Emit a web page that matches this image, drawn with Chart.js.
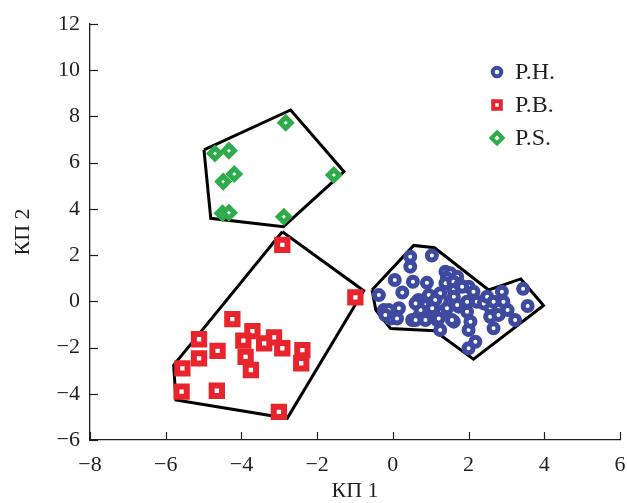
<!DOCTYPE html>
<html>
<head>
<meta charset="utf-8">
<script src="https://cdn.jsdelivr.net/npm/chart.js@4.4.1/dist/chart.umd.min.js"></script>
<style>
  html, body { margin: 0; padding: 0; background: #ffffff; }
  canvas { display: block; }
</style>
</head>
<body>
<canvas id="chart" width="627" height="503"></canvas>
<script>
// Axis ticks
const xTicks = [-8, -6, -4, -2, 0, 2, 4, 6];
const yTicks = [-6, -4, -2, 0, 2, 4, 6, 8, 10, 12];
const xTitle = 'КП 1';
const yTitle = 'КП 2';
const seriesNames = ['P.H.', 'P.B.', 'P.S.'];

// P.H. scores [КП 1, КП 2]
const phPoints = [
  [0.46, 1.93], [0.46, 1.50], [1.03, 1.98], [0.05, 0.92], [0.53, 0.85], [0.90, 0.80],
  [-0.37, 0.27], [0.25, 0.38], [1.39, 1.28], [1.52, 1.21], [1.70, 1.06], [1.43, 1.00],
  [1.39, 0.78], [1.60, 0.85], [2.00, 0.63], [2.13, 0.42], [2.44, 0.06], [2.88, 0.42],
  [3.44, 0.54], [3.56, -0.20], [2.57, -0.67], [3.03, -0.38], [3.23, -0.81], [2.66, -1.17],
  [2.00, -1.24], [2.18, -1.75], [2.00, -2.03], [1.25, -1.24], [1.17, -0.81], [1.61, -0.88],
  [0.68, -0.67], [-0.06, -0.74], [-0.24, -0.38], [0.16, -0.30], [0.64, -0.02], [0.99, 0.13],
  [1.25, 0.35], [1.61, 0.49], [1.78, 0.71], [0.99, -0.38], [1.30, -0.45], [1.74, -0.23],
  [1.96, -0.02], [2.22, -0.02], [1.52, -0.02], [1.61, 0.20], [0.73, -0.38], [0.51, -0.81],
  [2.57, -0.26], [2.92, -0.02], [0.68, 0.06], [0.95, 0.27], [1.12, 0.06], [1.04, -0.30],
  [0.60, -0.09], [-0.11, -0.38], [-0.20, -0.59], [0.11, -0.74], [0.60, -0.81], [0.86, -0.81],
  [1.21, -0.74], [1.43, -0.30], [1.56, -0.81], [1.83, 0.63], [2.40, -0.09], [2.49, 0.20],
  [2.05, -0.88], [2.79, -0.59], [2.66, -0.02], [1.96, -0.45], [1.70, -0.16]
];
// P.B. scores
const pbPoints = [
  [-2.92, 2.44], [-0.99, 0.17], [-4.24, -0.77], [-3.71, -1.29], [-5.12, -1.64], [-3.95, -1.70],
  [-3.14, -1.56], [-3.40, -1.82], [-2.92, -2.03], [-4.63, -2.14], [-2.39, -2.11], [-5.12, -2.47],
  [-3.89, -2.40], [-2.42, -2.68], [-5.56, -2.90], [-3.75, -2.97], [-5.58, -3.91], [-4.65, -3.87],
  [-3.01, -4.78]
];
// P.S. scores
const psPoints = [
  [-2.83, 7.73], [-4.70, 6.40], [-4.33, 6.52], [-4.48, 5.18], [-4.19, 5.51],
  [-4.50, 3.81], [-4.33, 3.83], [-2.88, 3.66], [-1.56, 5.47]
];

// Group outlines (polygon vertices)
const phHull = [[-0.55, 0.49], [0.55, 2.42], [1.10, 2.32], [2.53, 0.49], [3.38, 0.97],
                [3.98, -0.18], [2.13, -2.50], [1.10, -1.27], [-0.06, -1.18], [-0.45, -0.38]];
const pbHull = [[-2.92, 3.01], [-0.77, 0.46], [-2.79, -5.06], [-5.73, -4.27], [-5.79, -2.76]];
const psHull = [[-4.99, 6.55], [-2.70, 8.28], [-1.29, 5.61], [-2.89, 3.23], [-4.81, 3.59]];

const colors = ['#3d4a9f', '#e8252c', '#2eab4b'];
const markerStyles = ['circle', 'rect', 'rectRot'];
const ink = '#231f20';
const fontFamily = "'Liberation Serif', 'Times New Roman', serif";

const toXY = pts => pts.map(([x, y]) => ({ x, y }));
const closed = pts => toXY(pts.concat([pts[0]]));
const minus = v => (v < 0 ? '\u2212' + Math.abs(v) : String(v));

function pointSet(i, pts, radius, border) {
  return {
    label: seriesNames[i],
    data: toXY(pts),
    pointStyle: markerStyles[i],
    pointRadius: radius,
    pointHoverRadius: radius,
    pointBorderWidth: border,
    pointBorderColor: colors[i],
    pointBackgroundColor: '#ffffff',
    borderColor: colors[i],
    backgroundColor: '#ffffff',
    showLine: false,
    order: 1
  };
}
function outline(pts) {
  return {
    label: '',
    data: closed(pts),
    showLine: true,
    borderColor: '#000000',
    borderWidth: 3,
    borderJoinStyle: 'miter',
    pointRadius: 0,
    pointHoverRadius: 0,
    fill: false,
    tension: 0,
    order: 2
  };
}

// Inward-pointing tick marks on both axes
const innerTicks = {
  id: 'innerTicks',
  afterDraw(chart) {
    const { ctx, chartArea: a, scales: { x, y } } = chart;
    ctx.save();
    ctx.strokeStyle = ink;
    ctx.lineWidth = 1.2;
    x.ticks.forEach(t => {
      const px = Math.round(x.getPixelForValue(t.value)) + 0.5;
      ctx.beginPath(); ctx.moveTo(px, a.bottom); ctx.lineTo(px, a.bottom - 8); ctx.stroke();
    });
    y.ticks.forEach(t => {
      const py = Math.round(y.getPixelForValue(t.value)) + 0.5;
      ctx.beginPath(); ctx.moveTo(a.left, py); ctx.lineTo(a.left + 8, py); ctx.stroke();
    });
    ctx.restore();
  }
};

// Legend drawn inside the plot area
const innerLegend = {
  id: 'innerLegend',
  afterDraw(chart) {
    const { ctx } = chart;
    const mx = 497, tx = 515, rows = [72, 105, 138];
    ctx.save();
    seriesNames.forEach((name, i) => {
      const y = rows[i];
      ctx.lineWidth = 4;
      ctx.strokeStyle = colors[i];
      ctx.fillStyle = '#ffffff';
      ctx.beginPath();
      if (markerStyles[i] === 'circle') {
        ctx.arc(mx, y, 4.3, 0, Math.PI * 2);
      } else if (markerStyles[i] === 'rect') {
        ctx.rect(mx - 3.8, y - 3.8, 7.6, 7.6);
      } else {
        ctx.moveTo(mx, y - 5.5); ctx.lineTo(mx + 5.5, y); ctx.lineTo(mx, y + 5.5); ctx.lineTo(mx - 5.5, y);
        ctx.closePath();
      }
      ctx.fill();
      ctx.stroke();
      ctx.fillStyle = ink;
      ctx.font = '24px ' + fontFamily;
      ctx.textAlign = 'left';
      ctx.textBaseline = 'middle';
      ctx.fillText(name, tx, y + 1);
    });
    ctx.restore();
  }
};

new Chart(document.getElementById('chart'), {
  type: 'scatter',
  data: {
    datasets: [
      pointSet(0, phPoints, 4.5, 5),
      pointSet(1, pbPoints, 7.3, 6),
      pointSet(2, psPoints, 5.5, 5),
      outline(phHull),
      outline(pbHull),
      outline(psHull)
    ]
  },
  options: {
    responsive: false,
    devicePixelRatio: 1,
    animation: false,
    layout: { autoPadding: false, padding: { top: 24, right: 7, bottom: 0, left: 0 } },
    plugins: { legend: { display: false }, tooltip: { enabled: false } },
    scales: {
      x: {
        type: 'linear',
        min: xTicks[0],
        max: xTicks[xTicks.length - 1],
        ticks: {
          stepSize: xTicks[1] - xTicks[0],
          callback: v => minus(v),
          color: ink,
          padding: 12,
          maxRotation: 0,
          font: { family: fontFamily, size: 22 }
        },
        grid: { display: false, drawTicks: false },
        border: { display: true, color: ink, width: 1.3 },
        title: {
          display: true,
          text: xTitle,
          color: ink,
          font: { family: fontFamily, size: 22, lineHeight: 1.1 },
          padding: { top: 0, bottom: 0 }
        },
        afterFit: s => { s.height = 63; s.paddingLeft = 0; s.paddingRight = 0; }
      },
      y: {
        type: 'linear',
        min: yTicks[0],
        max: yTicks[yTicks.length - 1],
        ticks: {
          stepSize: yTicks[1] - yTicks[0],
          callback: v => minus(v),
          color: ink,
          padding: 10,
          font: { family: fontFamily, size: 22 }
        },
        grid: { display: false, drawTicks: false },
        border: { display: true, color: ink, width: 1.3 },
        title: {
          display: true,
          text: yTitle,
          color: ink,
          font: { family: fontFamily, size: 22, lineHeight: 1.1 },
          padding: { top: 11, bottom: 0 }
        },
        afterFit: s => { s.width = 90; s.paddingTop = 0; s.paddingBottom = 0; }
      }
    }
  },
  plugins: [innerTicks, innerLegend]
});
</script>
</body>
</html>
